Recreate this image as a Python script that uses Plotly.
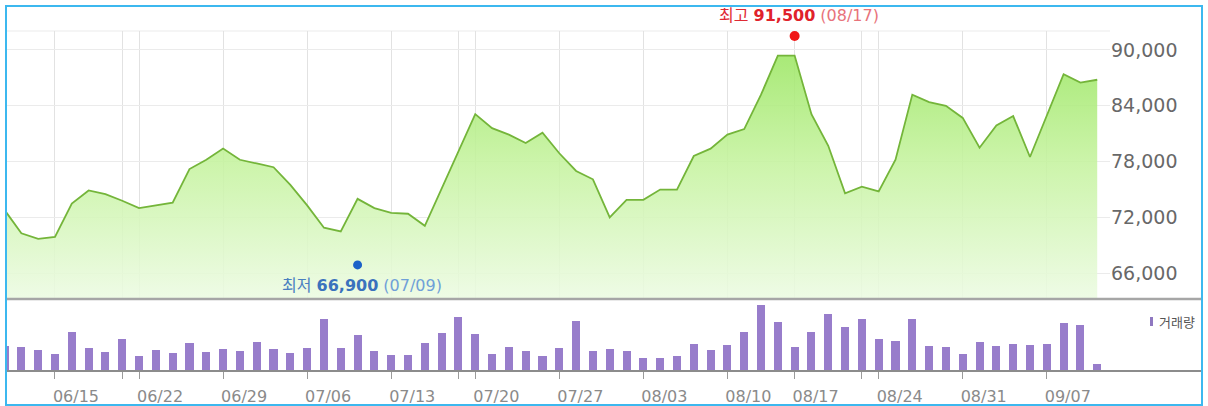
import plotly.graph_objects as go

# ---------------- data ----------------
dates = [
    "06/10", "06/11", "06/12", "06/15", "06/16", "06/17", "06/18", "06/19",
    "06/22", "06/23", "06/24", "06/25", "06/26", "06/29", "06/30",
    "07/01", "07/02", "07/03", "07/06", "07/07", "07/08", "07/09", "07/10",
    "07/13", "07/14", "07/15", "07/16", "07/17", "07/20", "07/21", "07/22",
    "07/23", "07/24", "07/27", "07/28", "07/29", "07/30", "07/31",
    "08/03", "08/04", "08/05", "08/06", "08/07", "08/10", "08/11", "08/12",
    "08/13", "08/17", "08/18", "08/19", "08/20", "08/21", "08/24", "08/25",
    "08/26", "08/27", "08/28", "08/31",
    "09/01", "09/02", "09/03", "09/04", "09/07", "09/08", "09/09", "09/10",
]

close_prices = [
    72800, 70300, 69700, 69900, 73500, 74900, 74500, 73800,
    73000, 73300, 73600, 77200, 78200, 79400, 78200,
    77800, 77400, 75500, 73300, 70900, 70500, 74000, 73000,
    72500, 72400, 71100, 75100, 79000, 83100, 81600, 80900,
    80000, 81100, 78900, 77000, 76100, 72000, 73900,
    73900, 75000, 75000, 78600, 79400, 80900, 81500, 85200,
    89400, 89400, 83100, 79700, 74600, 75300, 74800, 78200,
    85200, 84400, 84000, 82700,
    79500, 81900, 82900, 78500, 83000, 87400, 86500, 86800,
]

volumes = [
    250, 243, 207, 167, 393, 227, 190, 317,
    150, 210, 177, 283, 190, 217, 203,
    290, 220, 183, 230, 517, 233, 357, 203,
    160, 157, 277, 377, 537, 367, 170, 243,
    203, 153, 230, 500, 203, 217, 203,
    133, 133, 150, 270, 213, 260, 393, 657,
    493, 243, 390, 570, 443, 517, 320, 303,
    517, 250, 237, 170,
    287, 250, 267, 260, 270, 477, 457, 70,
]

high_price, high_date = 91500, "08/17"
low_price, low_date = 66900, "07/09"

tick_dates = ["06/15", "06/19", "06/22", "06/29", "07/06", "07/13", "07/17",
              "07/20", "07/27", "08/03", "08/10", "08/17", "08/21", "08/24",
              "08/31", "09/07"]
tick_labels = ["06/15", "", "06/22", "06/29", "07/06", "07/13", "",
               "07/20", "07/27", "08/03", "08/10", "08/17", "", "08/24",
               "08/31", "09/07"]

price_ticks = [66000, 72000, 78000, 84000, 90000]

# ---------------- helpers ----------------
W, H = 1208, 406
L, R, T, B = 7, 1110, 31, 371


def px(xp):
    return (xp - L) / (R - L)


def py(yp):
    return (B - yp) / (B - T)


idx0 = dates.index("06/15")
xs = [i - idx0 for i in range(len(dates))]
tick_pos = [dates.index(d) - idx0 for d in tick_dates]
xrange = [-2.855, 62.76]

fig = go.Figure()

fig.add_trace(go.Scatter(
    x=xs, y=close_prices, xaxis="x2", yaxis="y2", mode="lines",
    line=dict(color="#74b53a", width=1.8),
    fill="tozeroy",
    fillgradient=dict(type="vertical", start=63290, stop=92040,
                      colorscale=[[0, "rgba(236,251,226,0.88)"],
                                  [0.5, "rgba(198,243,160,0.88)"],
                                  [1, "rgba(148,228,88,0.88)"]]),
    hoverinfo="skip", showlegend=False,
))

fig.add_trace(go.Bar(
    x=xs, y=volumes, xaxis="x", yaxis="y", width=0.48,
    marker=dict(color="#987dcb", line=dict(width=0)),
    showlegend=False, hoverinfo="skip",
))

fig.add_trace(go.Scatter(
    x=[dates.index(high_date) - idx0], y=[high_price], xaxis="x2", yaxis="y2",
    mode="markers", marker=dict(color="#f01414", size=10),
    showlegend=False, hoverinfo="skip", cliponaxis=False,
))
fig.add_trace(go.Scatter(
    x=[dates.index(low_date) - idx0], y=[low_price], xaxis="x2", yaxis="y2",
    mode="markers", marker=dict(color="#1c62c8", size=9),
    showlegend=False, hoverinfo="skip", cliponaxis=False,
))

fig.update_layout(
    width=W, height=H,
    margin=dict(l=L, r=W - R, t=T, b=H - B, pad=0, autoexpand=False),
    paper_bgcolor="white", plot_bgcolor="white",
    showlegend=False,
    bargap=0,
    font=dict(family="DejaVu Sans, Noto Sans CJK KR", color="#777"),
    xaxis=dict(
        domain=[0, 1], anchor="y", range=xrange, automargin=False,
        tickmode="array", tickvals=tick_pos, ticktext=tick_labels,
        ticks="outside", ticklen=7, tickcolor="#9a9a9a", tickwidth=1,
        tickfont=dict(size=16, color="#8a8a8a", family="DejaVu Sans"),
        ticklabelshift=21, ticklabelstandoff=4,
        showgrid=False, zeroline=False, showline=False,
    ),
    yaxis=dict(
        domain=[0, py(301)], anchor="x", range=[0, 700], automargin=False,
        showticklabels=False, showgrid=False, zeroline=False, showline=False,
        ticks="",
    ),
    xaxis2=dict(
        domain=[0, 1], anchor="y2", range=xrange, automargin=False,
        tickmode="array", tickvals=tick_pos, showticklabels=False, ticks="",
        showgrid=True, gridcolor="#e2e2e2", gridwidth=1,
        zeroline=False, showline=False,
    ),
    yaxis2=dict(
        domain=[py(298.5), 1], anchor="x2", range=[63290, 92040],
        automargin=False,
        side="right", tickmode="array", tickvals=price_ticks,
        ticktext=[f"{v:,}" for v in price_ticks], ticks="",
        tickfont=dict(size=19, color="#686868", family="DejaVu Sans"),
        showgrid=True, gridcolor="#ebebeb", gridwidth=1,
        zeroline=False, showline=False,
    ),
)

shapes = [
    # top grid line of price panel
    dict(type="line", xref="paper", yref="paper", x0=0, x1=1, y0=1, y1=1,
         line=dict(color="#ebebeb", width=1), layer="below"),
    # separator between price and volume panels
    dict(type="line", xref="paper", yref="paper", x0=px(7), x1=px(1201),
         y0=py(299), y1=py(299), line=dict(color="#a6a6a6", width=2.5)),
    # volume baseline
    dict(type="line", xref="paper", yref="paper", x0=px(7), x1=px(1201),
         y0=py(371), y1=py(371), line=dict(color="#8c8c8c", width=2)),
    # volume legend swatch
    dict(type="rect", xref="paper", yref="paper", x0=px(1150), x1=px(1153),
         y0=py(326), y1=py(317), fillcolor="#8f78c0", line=dict(width=0)),
    # outer frame
    dict(type="rect", xref="paper", yref="paper", x0=px(6), x1=px(1202),
         y0=py(405), y1=py(6), line=dict(color="#3cb8ef", width=2),
         fillcolor="rgba(0,0,0,0)"),
]
fig.update_layout(shapes=shapes)

annotations = [
    dict(xref="x2", yref="paper", x=dates.index(high_date) - idx0, y=py(16),
         xanchor="center", yanchor="middle", xshift=4, showarrow=False,
         text=("<span style='color:#df2a33'>최고 </span>"
               f"<b style='color:#e0222b'>{high_price:,}</b>"
               f"<span style='color:#e8737b'> ({high_date})</span>"),
         font=dict(size=16, family="DejaVu Sans, Noto Sans CJK KR")),
    dict(xref="x2", yref="paper", x=dates.index(low_date) - idx0, y=py(285),
         xanchor="center", yanchor="middle", xshift=4, showarrow=False,
         text=("<span style='color:#4a7fc0'>최저 </span>"
               f"<b style='color:#3a72bd'>{low_price:,}</b>"
               f"<span style='color:#6fa0d8'> ({low_date})</span>"),
         font=dict(size=16, family="DejaVu Sans, Noto Sans CJK KR")),
    dict(xref="paper", yref="paper", x=px(1157), y=py(321.5),
         xanchor="left", yanchor="middle", showarrow=False,
         text="거래량", font=dict(size=13, color="#555",
                                family="Noto Sans CJK KR")),
]
fig.update_layout(annotations=annotations)

fig.write_html("out.html")
